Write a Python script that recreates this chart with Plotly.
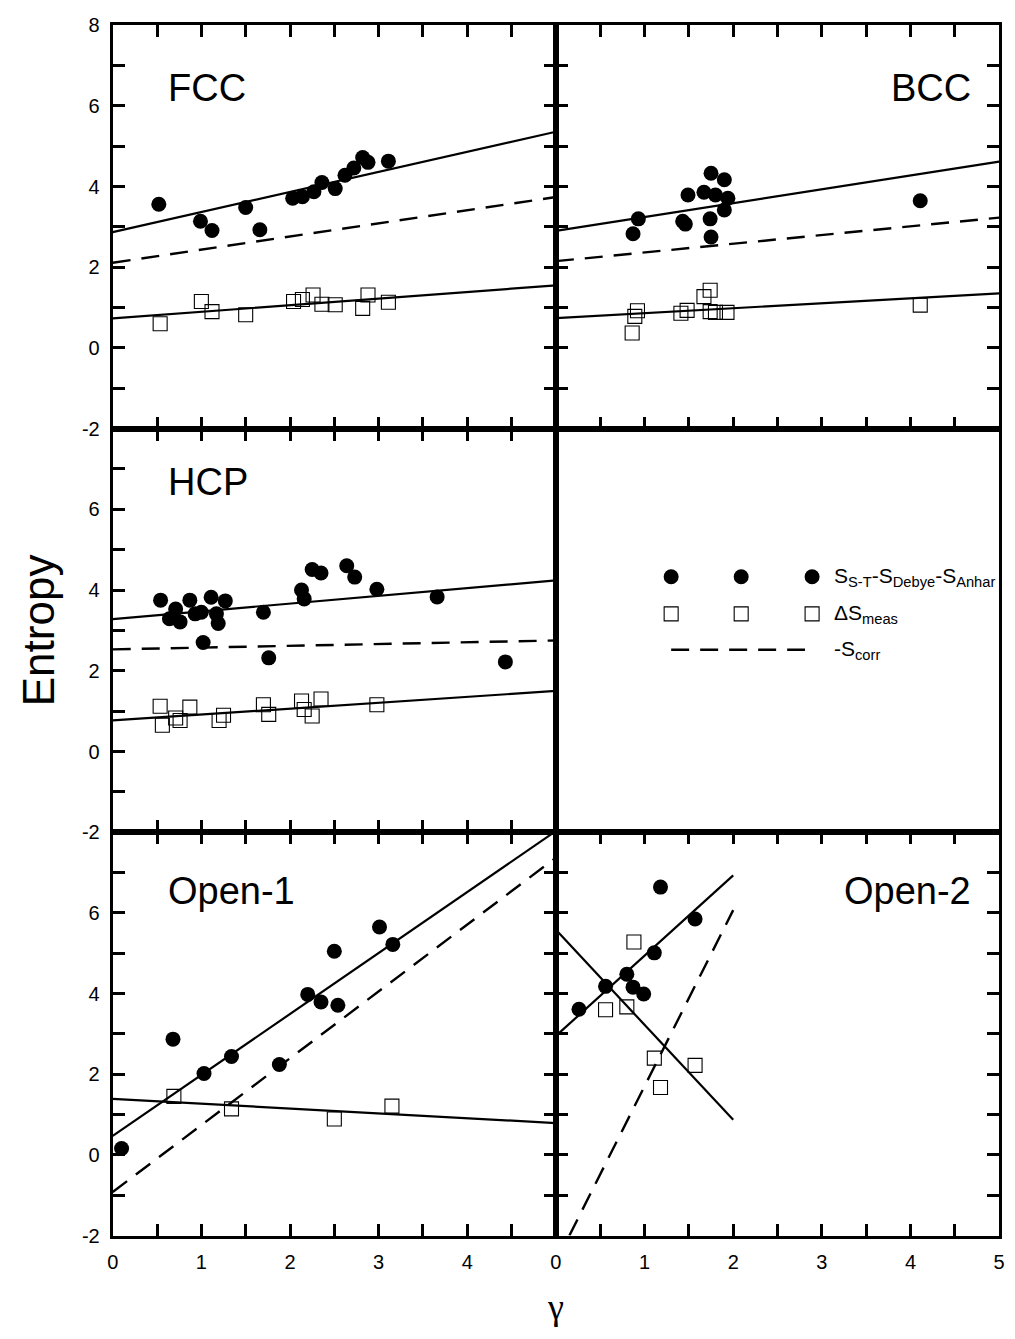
import plotly.graph_objects as go

# ---------------- data ----------------
# FCC
fcc_s_x = [0.52, 0.99, 1.12, 1.50, 1.66, 2.03, 2.14, 2.27, 2.36, 2.51, 2.62, 2.72, 2.82, 2.88, 3.11]
fcc_s_y = [3.56, 3.14, 2.91, 3.48, 2.93, 3.71, 3.75, 3.87, 4.10, 3.95, 4.28, 4.46, 4.72, 4.60, 4.63]
fcc_m_x = [0.535, 1.00, 1.12, 1.50, 2.04, 2.14, 2.26, 2.36, 2.51, 2.82, 2.88, 3.11]
fcc_m_y = [0.60, 1.15, 0.90, 0.82, 1.15, 1.20, 1.31, 1.08, 1.07, 0.98, 1.31, 1.13]
fcc_fit_s = [2.87, 5.36]      # y at gamma = 0 and 5
fcc_fit_corr = [2.11, 3.74]
fcc_fit_m = [0.73, 1.55]

# BCC
bcc_s_x = [0.93, 0.87, 1.49, 1.43, 1.46, 1.75, 1.90, 1.67, 1.80, 1.94, 1.90, 1.74, 1.75, 4.11]
bcc_s_y = [3.20, 2.83, 3.79, 3.14, 3.07, 4.33, 4.17, 3.86, 3.79, 3.71, 3.42, 3.20, 2.75, 3.65]
bcc_m_x = [0.86, 0.89, 0.92, 1.41, 1.48, 1.67, 1.74, 1.74, 1.80, 1.93, 4.11]
bcc_m_y = [0.37, 0.78, 0.92, 0.86, 0.93, 1.27, 1.43, 0.90, 0.88, 0.88, 1.06]
bcc_fit_s = [2.90, 4.62]
bcc_fit_corr = [2.15, 3.23]
bcc_fit_m = [0.74, 1.35]

# HCP
hcp_s_x = [0.54, 0.71, 0.64, 0.76, 0.87, 0.93, 1.00, 1.02, 1.11, 1.17, 1.19, 1.27,
           1.70, 1.76, 2.13, 2.16, 2.25, 2.35, 2.64, 2.73, 2.98, 3.66, 4.43]
hcp_s_y = [3.75, 3.53, 3.29, 3.21, 3.75, 3.41, 3.45, 2.70, 3.82, 3.41, 3.17, 3.73,
           3.45, 2.32, 4.00, 3.78, 4.51, 4.42, 4.60, 4.32, 4.02, 3.83, 2.22]
hcp_m_x = [0.535, 0.56, 0.71, 0.76, 0.87, 1.20, 1.25, 1.70, 1.76, 2.13, 2.16, 2.25, 2.35, 2.98]
hcp_m_y = [1.12, 0.65, 0.83, 0.77, 1.10, 0.77, 0.90, 1.16, 0.92, 1.25, 1.04, 0.88, 1.30, 1.16]
hcp_fit_s = [3.28, 4.24]
hcp_fit_corr = [2.53, 2.75]
hcp_fit_m = [0.77, 1.50]

# Open-1
op1_s_x = [0.10, 0.68, 1.03, 1.34, 1.88, 2.20, 2.35, 2.54, 2.50, 3.01, 3.16]
op1_s_y = [0.16, 2.87, 2.02, 2.44, 2.24, 3.98, 3.79, 3.71, 5.05, 5.65, 5.22]
op1_m_x = [0.69, 1.34, 2.50, 3.15]
op1_m_y = [1.45, 1.14, 0.89, 1.21]
op1_fit_s = [0.47, 8.03]
op1_fit_corr = [-0.92, 7.37]
op1_fit_m = [1.39, 0.79]

# Open-2
op2_s_x = [0.26, 0.56, 0.80, 0.87, 0.99, 1.11, 1.18, 1.57]
op2_s_y = [3.61, 4.18, 4.48, 4.16, 3.99, 5.01, 6.64, 5.85]
op2_m_x = [0.88, 0.56, 0.80, 1.11, 1.57, 1.18]
op2_m_y = [5.28, 3.60, 3.67, 2.40, 2.22, 1.67]
op2_fit_s_x = [0.0, 2.0]
op2_fit_s = [2.95, 6.93]
op2_fit_m_x = [0.0, 2.0]
op2_fit_m = [5.58, 0.87]
op2_fit_corr_x = [0.152, 2.0]
op2_fit_corr = [-2.0, 6.07]

panel_names = ["FCC", "BCC", "HCP", "Open-1", "Open-2"]
legend_labels = ["S<sub>S-T</sub>-S<sub>Debye</sub>-S<sub>Anhar</sub>",
                 "\u0394S<sub>meas</sub>", "-S<sub>corr</sub>"]

x_tickvals = [0, 0.5, 1, 1.5, 2, 2.5, 3, 3.5, 4, 4.5, 5]
y_tickvals = [-2, -1, 0, 1, 2, 3, 4, 5, 6, 7, 8]

# ---------------- layout geometry ----------------
W, H = 1015, 1339
colL = [108 / W, 556.5 / W]
colR = [556.5 / W, 1005 / W]
row1 = [1 - 424.5 / H, 1 - 14.5 / H]
row2 = [1 - 835 / H, 1 - 424.5 / H]
row3 = [1 - 1245 / H, 1 - 835 / H]

BLACK = "black"
FONT = "Liberation Sans"
CIRC = dict(symbol="circle", size=15, color=BLACK)
SQR = dict(symbol="square-open", size=14, color=BLACK, line=dict(width=1.1, color=BLACK))
SOLID = dict(color=BLACK, width=2.2)
DASH = dict(color=BLACK, width=2.4, dash="18px,11px")

fig = go.Figure()


def add_panel(ax, sx, sy, mx, my, fs, fc, fm,
              fsx=(0, 5), fcx=(0, 5), fmx=(0, 5)):
    xa = "x" if ax == 1 else f"x{ax}"
    ya = "y" if ax == 1 else f"y{ax}"
    fig.add_trace(go.Scatter(x=list(fsx), y=fs, mode="lines", line=SOLID,
                             xaxis=xa, yaxis=ya, showlegend=False, hoverinfo="skip"))
    fig.add_trace(go.Scatter(x=list(fcx), y=fc, mode="lines", line=DASH,
                             xaxis=xa, yaxis=ya, showlegend=False, hoverinfo="skip"))
    fig.add_trace(go.Scatter(x=list(fmx), y=fm, mode="lines", line=SOLID,
                             xaxis=xa, yaxis=ya, showlegend=False, hoverinfo="skip"))
    fig.add_trace(go.Scatter(x=mx, y=my, mode="markers", marker=SQR,
                             xaxis=xa, yaxis=ya, showlegend=False))
    fig.add_trace(go.Scatter(x=sx, y=sy, mode="markers", marker=CIRC,
                             xaxis=xa, yaxis=ya, showlegend=False))


add_panel(1, fcc_s_x, fcc_s_y, fcc_m_x, fcc_m_y, fcc_fit_s, fcc_fit_corr, fcc_fit_m)
add_panel(2, bcc_s_x, bcc_s_y, bcc_m_x, bcc_m_y, bcc_fit_s, bcc_fit_corr, bcc_fit_m)
add_panel(3, hcp_s_x, hcp_s_y, hcp_m_x, hcp_m_y, hcp_fit_s, hcp_fit_corr, hcp_fit_m)
add_panel(5, op1_s_x, op1_s_y, op1_m_x, op1_m_y, op1_fit_s, op1_fit_corr, op1_fit_m)
add_panel(6, op2_s_x, op2_s_y, op2_m_x, op2_m_y, op2_fit_s, op2_fit_corr, op2_fit_m,
          fsx=op2_fit_s_x, fcx=op2_fit_corr_x, fmx=op2_fit_m_x)

# ---------------- hand-made legend in the empty panel ----------------
leg_sample_x = [1.30, 2.09, 2.89]
leg_rows_y = [4.33, 3.41, 2.52]
fig.add_trace(go.Scatter(x=leg_sample_x, y=[leg_rows_y[0]] * 3, mode="markers", marker=CIRC,
                         xaxis="x4", yaxis="y4", showlegend=False, hoverinfo="skip"))
fig.add_trace(go.Scatter(x=leg_sample_x, y=[leg_rows_y[1]] * 3, mode="markers", marker=SQR,
                         xaxis="x4", yaxis="y4", showlegend=False, hoverinfo="skip"))
fig.add_trace(go.Scatter(x=[leg_sample_x[0], 2.81], y=[leg_rows_y[2]] * 2, mode="lines", line=DASH,
                         xaxis="x4", yaxis="y4", showlegend=False, hoverinfo="skip"))

annotations = []
for lab, yy in zip(legend_labels, leg_rows_y):
    annotations.append(dict(x=3.12, y=yy, xref="x4", yref="y4", text=lab, showarrow=False,
                            xanchor="left", yanchor="middle",
                            font=dict(family=FONT, size=21, color=BLACK)))

# panel names
name_pos = [("x", "y", 0.60, 6.45, "left"), ("x2", "y2", 4.70, 6.45, "right"),
            ("x3", "y3", 0.60, 6.68, "left"), ("x5", "y5", 0.60, 6.55, "left"),
            ("x6", "y6", 4.70, 6.55, "right")]
for name, (xr, yr, xx, yy, anc) in zip(panel_names, name_pos):
    annotations.append(dict(x=xx, y=yy, xref=xr, yref=yr, text=name, showarrow=False,
                            xanchor=anc, yanchor="middle",
                            font=dict(family=FONT, size=38, color=BLACK)))

# axis titles
annotations.append(dict(x=33 / W, y=1 - 630 / H, xref="paper", yref="paper", text="Entropy",
                        showarrow=False, textangle=-90, xanchor="center", yanchor="middle",
                        font=dict(family=FONT, size=44, color=BLACK)))
annotations.append(dict(x=556 / W, y=1 - 1318 / H, xref="paper", yref="paper", text="\u03b3",
                        showarrow=False, xanchor="center", yanchor="middle",
                        font=dict(family="Liberation Serif", size=36, color=BLACK)))

# ---------------- axes ----------------
TICKFONT = dict(family=FONT, size=20, color=BLACK)


def xax(domain, anchor, labels=None, ticks=True):
    d = dict(domain=domain, anchor=anchor, range=[0, 5], showgrid=False, zeroline=False,
             showline=True, linewidth=3, linecolor=BLACK, mirror="ticks" if ticks else True,
             ticks="inside" if ticks else "", ticklen=12, tickwidth=3, tickcolor=BLACK,
             tickvals=x_tickvals, fixedrange=True, tickfont=TICKFONT, ticklabelstandoff=6)
    if labels:
        d.update(ticktext=labels, showticklabels=True)
    else:
        d.update(showticklabels=False)
    return d


def yax(domain, anchor, labels=None, ticks=True, mirror_ticks=True):
    d = dict(domain=domain, anchor=anchor, range=[-2, 8], showgrid=False, zeroline=False,
             showline=True, linewidth=3, linecolor=BLACK,
             mirror="ticks" if (ticks and mirror_ticks) else True,
             ticks="inside" if ticks else "", ticklen=12, tickwidth=3, tickcolor=BLACK,
             tickvals=y_tickvals, fixedrange=True, tickfont=TICKFONT, ticklabelstandoff=6)
    if labels:
        d.update(ticktext=labels, showticklabels=True)
    else:
        d.update(showticklabels=False)
    return d


xl_bottom = ["0", "", "1", "", "2", "", "3", "", "4", "", ""]
xr_bottom = ["0", "", "1", "", "2", "", "3", "", "4", "", "5"]
y_top = ["-2", "", "0", "", "2", "", "4", "", "6", "", "8"]
y_rest = ["-2", "", "0", "", "2", "", "4", "", "6", "", ""]

fig.update_layout(
    width=W, height=H,
    margin=dict(l=0, r=0, t=0, b=0),
    paper_bgcolor="white", plot_bgcolor="white",
    showlegend=False,
    xaxis=xax(colL, "y"), yaxis=yax(row1, "x", y_top),
    xaxis2=xax(colR, "y2"), yaxis2=yax(row1, "x2"),
    xaxis3=xax(colL, "y3"), yaxis3=yax(row2, "x3", y_rest, mirror_ticks=False),
    xaxis4=xax(colR, "y4", ticks=False), yaxis4=yax(row2, "x4", ticks=False),
    xaxis5=xax(colL, "y5", xl_bottom), yaxis5=yax(row3, "x5", y_rest),
    xaxis6=xax(colR, "y6", xr_bottom), yaxis6=yax(row3, "x6"),
    # HCP right-hand ticks sit at half-integer positions in the reference
    yaxis7=dict(overlaying="y3", anchor="x3", side="right", range=[-2, 8],
                tickvals=[-1.5, -0.5, 0.5, 1.5, 2.5, 3.5, 4.5, 5.5, 6.5, 7.5],
                ticks="inside", ticklen=12, tickwidth=3, tickcolor=BLACK,
                showticklabels=False, showline=False, showgrid=False, zeroline=False,
                fixedrange=True),
    annotations=annotations,
)

fig.write_html("out.html")
